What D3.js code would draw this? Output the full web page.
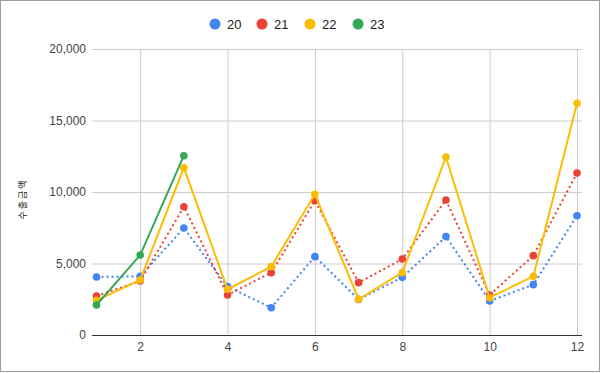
<!DOCTYPE html>
<html>
<head>
<meta charset="utf-8">
<script src="https://cdn.jsdelivr.net/npm/d3@7"></script>
<style>
    body { margin: 0; background: #fff; }
    svg { display: block; font-family: "Liberation Sans", Arial, sans-serif; }
</style>
</head>
<body>
<div id="chart"></div>
<script>
'use strict';

// months 1..12
const months = [1, 2, 3, 4, 5, 6, 7, 8, 9, 10, 11, 12];
const seriesNames = ['20', '21', '22', '23'];
const values20 = [4060, 4100, 7480, 3380, 1910, 5480, 2490, 4030, 6880, 2380, 3520, 8340];
const values21 = [2730, 3780, 8970, 2800, 4360, 9390, 3660, 5310, 9440, 2800, 5550, 11330];
const values22 = [2420, 3850, 11700, 3200, 4780, 9840, 2500, 4360, 12450, 2610, 4100, 16200];
const values23 = [2100, 5590, 12540];
const yTicks = [0, 5000, 10000, 15000, 20000];
const xTicks = [2, 4, 6, 8, 10, 12];

const palette = {
    '20': '#4285f4',
    '21': '#ea4335',
    '22': '#fbbc04',
    '23': '#34a853'
};

const width = 601, height = 373;
const plot = { left: 92, right: 582, top: 49, bottom: 335 };

const svg = d3.select('#chart').append('svg')
    .attr('width', width)
    .attr('height', height);

// outer frame
svg.append('rect')
    .attr('x', 0.5).attr('y', 0.5)
    .attr('width', 599).attr('height', 371)
    .attr('fill', '#fff')
    .attr('stroke', '#9e9e9e');

const scaleX = d3.scaleLinear().domain([1, 12]).range([96.5, 577]);
const scaleY = d3.scaleLinear().domain([0, 20000]).range([plot.bottom, plot.top]);

// gridlines
const yAxis = d3.axisLeft(scaleY)
    .tickValues(yTicks)
    .tickFormat(d3.format(','))
    .tickSize(-(plot.right - plot.left))
    .tickPadding(6);

const axisYGroup = svg.append('g')
    .attr('transform', `translate(${plot.left},0)`)
    .call(yAxis);
axisYGroup.select('.domain').remove();
axisYGroup.selectAll('.tick line').attr('stroke', '#cccccc');
axisYGroup.selectAll('.tick text')
    .attr('fill', '#444')
    .style('font-size', '12px');

const xAxis = d3.axisBottom(scaleX)
    .tickValues(xTicks)
    .tickSize(-(plot.bottom - plot.top))
    .tickPadding(7);

const axisXGroup = svg.append('g')
    .attr('transform', `translate(0,${plot.bottom})`)
    .call(xAxis);
axisXGroup.select('.domain').remove();
axisXGroup.selectAll('.tick line').attr('stroke', '#cccccc');
axisXGroup.selectAll('.tick text')
    .attr('fill', '#444')
    .style('font-size', '12px');

// baseline
svg.append('line')
    .attr('x1', plot.left).attr('x2', plot.right)
    .attr('y1', scaleY(0) + 0.5).attr('y2', scaleY(0) + 0.5)
    .attr('stroke', '#333')
    .attr('stroke-width', 1);

// y title
svg.append('text')
    .attr('transform', 'translate(26, 199) rotate(-90)')
    .attr('text-anchor', 'middle')
    .attr('fill', '#222')
    .style('font-size', '9px')
    .style('letter-spacing', '2px')
    .style('font-family', '"Noto Sans CJK KR", sans-serif')
    .text('수출금액');

const allSeries = [
    { name: '20', values: values20, dotted: true },
    { name: '21', values: values21, dotted: true },
    { name: '22', values: values22, dotted: false },
    { name: '23', values: values23, dotted: false }
];

const line = d3.line()
    .x((d, i) => scaleX(months[i]))
    .y(d => scaleY(d));

const marks = svg.append('g');

allSeries.forEach(s => {
    marks.append('path')
        .attr('d', line(s.values))
        .attr('fill', 'none')
        .attr('stroke', palette[s.name])
        .attr('stroke-width', 2)
        .attr('stroke-dasharray', s.dotted ? '2,3' : null);

    marks.selectAll(null)
        .data(s.values)
        .join('circle')
        .attr('cx', (d, i) => scaleX(months[i]))
        .attr('cy', d => scaleY(d))
        .attr('r', 3.8)
        .attr('fill', palette[s.name]);
});

// legend
const legendX = [215, 262, 310, 358];
const legend = svg.append('g');
seriesNames.forEach((name, i) => {
    const item = legend.append('g')
        .attr('transform', `translate(${legendX[i]}, 24)`);
    item.append('circle')
        .attr('r', 5.5)
        .attr('fill', palette[name]);
    item.append('text')
        .attr('x', 12)
        .attr('dy', '0.35em')
        .attr('fill', '#222')
        .style('font-size', '13px')
        .text(name);
});
</script>
</body>
</html>
